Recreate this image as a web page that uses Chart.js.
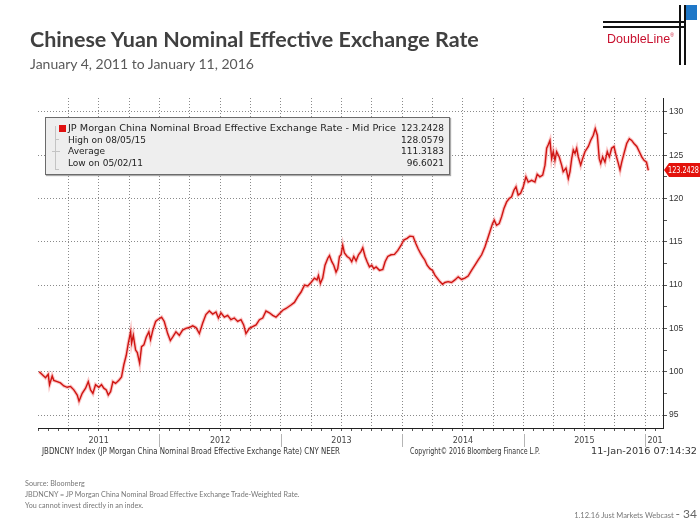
<!DOCTYPE html>
<html>
<head>
<meta charset="utf-8">
<script src="https://cdn.jsdelivr.net/npm/chart.js@4.4.1/dist/chart.umd.min.js"></script>
<style>
  body { margin: 0; width: 700px; height: 525px; position: relative; overflow: hidden; background: #fff; font-family: Lato, "Liberation Sans", sans-serif; }
  #chartBox { position: absolute; left: 0; top: 0; width: 700px; height: 525px; }
  .abs { position: absolute; white-space: nowrap; transform-origin: left center; }
  .title { left: 30px; top: 26px; font-size: 21.5px; font-weight: bold; color: #404040; }
  .sub { left: 30px; top: 55px; font-size: 14px; color: #595959; }
  .bb { font-family: "DejaVu Sans", sans-serif; font-size: 8px; color: #333; }
  .note { left: 25px; font-size: 7.2px; color: #777; }
  #legend { position: absolute; left: 45px; top: 117px; width: 403px; height: 56px; background: #eeeeee; border: 1px solid #6b6b6b; box-shadow: 1px 1px 1px #aaa; }
  #legend .row { position: absolute; left: 22px; font-family: "DejaVu Sans", sans-serif; font-size: 9px; line-height: 11px; color: #222; white-space: nowrap; transform-origin: left center; }
  #legend .val { position: absolute; right: 5px; font-family: "DejaVu Sans", sans-serif; font-size: 9px; line-height: 11px; color: #222; white-space: nowrap; }
  .logo-line { position: absolute; background: #111; }
</style>
</head>
<body>
<div id="chartBox"><canvas id="neer" width="700" height="525"></canvas></div>

<div class="abs title">Chinese Yuan Nominal Effective Exchange Rate</div>
<div class="abs sub">January 4, 2011 to January 11, 2016</div>

<!-- DoubleLine logo -->
<div class="logo-line" style="left:603px;top:21px;width:83px;height:1.5px"></div>
<div class="logo-line" style="left:603px;top:26px;width:83px;height:1.5px"></div>
<div class="logo-line" style="left:679px;top:5px;width:1.5px;height:60px"></div>
<div class="logo-line" style="left:684px;top:5px;width:1.5px;height:60px"></div>
<div style="position:absolute;left:686px;top:5px;width:11px;height:15px;background:#1f78c8"></div>
<div class="abs" style="left:607px;top:32px;font-size:12.5px;color:#c8102e;font-family:'Liberation Sans',sans-serif">DoubleLine<span style="font-size:5px;vertical-align:top">®</span></div>

<div id="legend"></div>

<div class="abs bb" data-w="298" style="left:42px;top:447px">JBDNCNY Index (JP Morgan China Nominal Broad Effective Exchange Rate) CNY NEER</div>
<div class="abs bb" data-w="130" style="left:410px;top:447px">Copyright© 2016 Bloomberg Finance L.P.</div>
<div class="abs bb" data-w="106" style="left:591px;top:447px">11-Jan-2016 07:14:32</div>

<div class="abs note" style="top:479px">Source: Bloomberg</div>
<div class="abs note" style="top:490px">JBDNCNY = JP Morgan China Nominal Broad Effective Exchange Trade-Weighted Rate.</div>
<div class="abs note" style="top:501px">You cannot invest directly in an index.</div>
<div style="position:absolute;right:3px;top:506px;white-space:nowrap;font-size:7.5px;color:#777">1.12.16 Just Markets Webcast <span style="font-size:12px;color:#666">- 34</span></div>

<script>
// decimal year of each reading (Jan 4, 2011 .. Jan 11, 2016)
const yearPos = [
  2011.010, 2011.062, 2011.084, 2011.095, 2011.117, 2011.130, 2011.158, 2011.185, 2011.213, 2011.241,
  2011.268, 2011.295, 2011.323, 2011.338, 2011.364, 2011.392, 2011.414, 2011.433, 2011.452, 2011.474,
  2011.501, 2011.523, 2011.542, 2011.562, 2011.579, 2011.598, 2011.617, 2011.639, 2011.666, 2011.688,
  2011.707, 2011.727, 2011.744, 2011.763, 2011.771, 2011.785, 2011.804, 2011.818, 2011.837, 2011.853,
  2011.872, 2011.892, 2011.913, 2011.927, 2011.946, 2011.969, 2011.985, 2012.018, 2012.040, 2012.068,
  2012.090, 2012.109, 2012.136, 2012.164, 2012.191, 2012.218, 2012.246, 2012.274, 2012.301, 2012.329,
  2012.356, 2012.383, 2012.411, 2012.439, 2012.466, 2012.486, 2012.507, 2012.535, 2012.562, 2012.589,
  2012.617, 2012.645, 2012.672, 2012.694, 2012.713, 2012.741, 2012.768, 2012.796, 2012.824, 2012.851,
  2012.878, 2012.906, 2012.933, 2012.960, 2012.988, 2013.016, 2013.043, 2013.084, 2013.112, 2013.139,
  2013.167, 2013.195, 2013.222, 2013.249, 2013.277, 2013.298, 2013.310, 2013.326, 2013.345, 2013.364,
  2013.387, 2013.401, 2013.420, 2013.436, 2013.455, 2013.469, 2013.483, 2013.496, 2013.510, 2013.524,
  2013.546, 2013.566, 2013.584, 2013.601, 2013.620, 2013.640, 2013.661, 2013.675, 2013.694, 2013.711,
  2013.730, 2013.749, 2013.766, 2013.785, 2013.813, 2013.840, 2013.859, 2013.881, 2013.908, 2013.936,
  2013.964, 2013.991, 2014.013, 2014.040, 2014.063, 2014.090, 2014.112, 2014.131, 2014.151, 2014.167,
  2014.186, 2014.205, 2014.228, 2014.250, 2014.269, 2014.288, 2014.310, 2014.332, 2014.351, 2014.378,
  2014.406, 2014.434, 2014.461, 2014.489, 2014.516, 2014.543, 2014.571, 2014.599, 2014.626, 2014.654,
  2014.681, 2014.700, 2014.722, 2014.744, 2014.758, 2014.777, 2014.799, 2014.819, 2014.838, 2014.860,
  2014.881, 2014.901, 2014.920, 2014.937, 2014.955, 2014.975, 2014.997, 2015.019, 2015.038, 2015.066,
  2015.093, 2015.112, 2015.134, 2015.157, 2015.176, 2015.190, 2015.203, 2015.217, 2015.231, 2015.244,
  2015.258, 2015.272, 2015.293, 2015.313, 2015.326, 2015.349, 2015.368, 2015.382, 2015.396, 2015.409,
  2015.423, 2015.437, 2015.450, 2015.470, 2015.486, 2015.505, 2015.533, 2015.552, 2015.574, 2015.590,
  2015.607, 2015.623, 2015.635, 2015.651, 2015.670, 2015.689, 2015.706, 2015.725, 2015.744, 2015.761,
  2015.780, 2015.794, 2015.808, 2015.827, 2015.849, 2015.871, 2015.890, 2015.909, 2015.932, 2015.953,
  2015.973, 2015.992, 2016.012, 2016.027
];

// JBDNCNY index level
const cnyNeer = [
  100.0, 99.3, 99.7, 98.5, 99.5, 99.0, 98.85, 98.7, 98.35, 98.2,
  98.3, 97.9, 97.3, 96.6, 97.5, 98.1, 98.85, 97.9, 97.5, 98.5,
  98.2, 98.5, 98.1, 97.9, 97.3, 97.7, 98.85, 98.65, 99.0, 99.4,
  100.8, 101.9, 103.3, 104.6, 103.3, 104.2, 102.5, 102.2, 101.0, 102.9,
  103.1, 104.0, 104.6, 103.7, 104.8, 105.8, 106.0, 106.3, 105.8, 104.4,
  103.6, 104.0, 104.6, 104.2, 104.8, 105.0, 105.1, 105.3, 105.1, 104.4,
  105.6, 106.6, 107.0, 106.65, 106.9, 106.2, 106.8, 106.3, 106.5, 106.0,
  106.2, 105.8, 106.0, 105.4, 104.4, 105.0, 105.2, 105.4, 106.0, 106.2,
  107.0, 106.8, 106.5, 106.3, 106.7, 107.1, 107.3, 107.7, 108.0, 108.65,
  109.2, 110.0, 109.9, 110.3, 110.8, 110.6, 111.1, 110.2, 110.8, 112.3,
  113.1, 113.4, 112.7, 112.3, 111.5, 111.9, 113.3, 113.5, 114.6, 113.7,
  113.3, 113.1, 112.7, 113.3, 112.8, 113.5, 113.9, 114.3, 113.3, 112.7,
  112.1, 112.3, 111.9, 112.1, 111.7, 111.8, 112.7, 113.3, 113.5, 113.55,
  114.0, 114.6, 115.2, 115.4, 115.65, 115.6, 114.8, 114.2, 113.65, 113.3,
  112.9, 112.3, 111.9, 111.7, 111.15, 110.8, 110.4, 110.1, 110.3, 110.4,
  110.3, 110.6, 110.95, 110.65, 110.8, 111.05, 111.7, 112.3, 112.9, 113.5,
  114.4, 115.2, 116.15, 117.1, 117.5, 116.9, 117.1, 117.9, 118.85, 119.6,
  120.0, 120.2, 120.95, 121.35, 120.4, 120.6, 121.35, 122.5, 121.9, 122.1,
  121.9, 122.8, 122.5, 122.7, 123.85, 125.8, 126.2, 126.7, 124.6, 125.4,
  124.4, 125.4, 124.8, 123.85, 123.1, 123.5, 122.3, 123.1, 124.6, 125.6,
  125.2, 125.8, 124.8, 123.85, 124.6, 125.4, 126.0, 126.7, 127.3, 128.06,
  127.3, 124.6, 124.05, 124.8, 124.2, 125.4, 124.8, 125.8, 126.0, 125.0,
  124.05, 123.3, 124.2, 125.2, 126.35, 126.9, 126.7, 126.35, 126.0, 125.4,
  124.8, 124.4, 124.2, 123.24
];

const lastPrice = '123.2428';
const yearLabels = ['2011', '2012', '2013', '2014', '2015', '201'];
const yearStarts = [2011, 2012, 2013, 2014, 2015, 2016];
const yMajorTicks = [95, 100, 105, 110, 115, 120, 125, 130];

const legendLabels = ['JP Morgan China Nominal Broad Effective Exchange Rate - Mid Price', 'High on 08/05/15', 'Average', 'Low on 05/02/11'];
const legendValues = ['123.2428', '128.0579', '111.3183', '96.6021'];

// legend box in the Bloomberg style
const legend = document.getElementById('legend');
legendLabels.forEach((lab, i) => {
  const top = 5 + i * 11.6;
  const row = document.createElement('div');
  row.className = 'row';
  row.style.top = top + 'px';
  row.textContent = lab;
  legend.appendChild(row);
  const val = document.createElement('div');
  val.className = 'val';
  val.style.top = top + 'px';
  val.textContent = legendValues[i];
  legend.appendChild(val);
});
legend.insertAdjacentHTML('beforeend',
  '<div style="position:absolute;left:13px;top:7px;width:7px;height:7px;background:#e01010"></div>' +
  '<div style="position:absolute;left:9px;top:8px;width:1px;height:44px;background:#c4c4c4"></div>' +
  '<div style="position:absolute;left:10px;top:21px;width:3px;height:1px;background:#c4c4c4"></div>' +
  '<div style="position:absolute;left:6px;top:33px;width:8px;height:1px;background:#c4c4c4"></div>' +
  '<div style="position:absolute;left:10px;top:51px;width:3px;height:1px;background:#c4c4c4"></div>');

// squeeze the narrow Bloomberg texts to the widths seen on the picture
function fitWidth(el, w) {
  const cur = el.getBoundingClientRect().width;
  if (cur > 0) el.style.transform = 'scaleX(' + (w / cur).toFixed(3) + ')';
}
document.querySelectorAll('[data-w]').forEach(el => fitWidth(el, +el.dataset.w));
fitWidth(legend.querySelector('.row'), 328);

const bloombergExtras = {
  id: 'bloombergExtras',
  afterDraw(chart) {
    const { ctx, chartArea, scales: { x, y } } = chart;
    ctx.save();
    // year separators and labels under the axis
    ctx.font = '8px "DejaVu Sans", sans-serif';
    ctx.textBaseline = 'middle';
    ctx.textAlign = 'center';
    yearStarts.forEach((yr, i) => {
      const x0 = x.getPixelForValue(yr);
      const x1 = Math.min(x.getPixelForValue(yr + 1), chartArea.right);
      if (i > 0) {
        ctx.fillStyle = '#b5b5b5';
        ctx.fillRect(Math.round(x0), chartArea.bottom + 6, 1, 13);
      }
      ctx.fillStyle = '#444';
      ctx.fillText(yearLabels[i], (x0 + x1) / 2 + (i === yearStarts.length - 1 ? 1 : 0), chartArea.bottom + 13);
    });
    // last price tag on the right axis
    const yp = Math.round(y.getPixelForValue(cnyNeer[cnyNeer.length - 1]));
    const xl = chartArea.right + 1;
    ctx.fillStyle = '#e3120b';
    ctx.beginPath();
    ctx.moveTo(xl, yp);
    ctx.lineTo(xl + 5, yp - 7);
    ctx.lineTo(700, yp - 7);
    ctx.lineTo(700, yp + 7);
    ctx.lineTo(xl + 5, yp + 7);
    ctx.closePath();
    ctx.fill();
    ctx.fillStyle = '#fff';
    ctx.textAlign = 'left';
    ctx.font = '8px "DejaVu Sans", sans-serif';
    const tw = ctx.measureText(lastPrice).width;
    ctx.translate(xl + 4, yp + 0.5);
    ctx.scale(31 / tw, 1);
    ctx.fillText(lastPrice, 0, 0);
    ctx.restore();
  }
};

const points = yearPos.map((t, i) => ({ x: t, y: cnyNeer[i] }));

new Chart(document.getElementById('neer'), {
  type: 'line',
  data: {
    datasets: [{
      label: 'JBDNCNY',
      data: points,
      borderColor: '#cf1512',
      borderWidth: 1.4,
      pointRadius: 0,
      tension: 0,
      fill: false,
      order: 0
    }, {
      label: 'halo',
      data: points,
      borderColor: 'rgba(240, 90, 90, 0.35)',
      borderWidth: 3.5,
      pointRadius: 0,
      tension: 0,
      fill: false,
      order: 1
    }]
  },
  options: {
    responsive: false,
    animation: false,
    devicePixelRatio: 1,
    layout: { padding: { left: 38, top: 98, right: 0, bottom: 77 } },
    plugins: { legend: { display: false }, tooltip: { enabled: false } },
    scales: {
      x: {
        type: 'linear',
        position: 'bottom',
        min: 2011,
        max: 2016.148,
        afterBuildTicks: s => {
          const t = [];
          for (let m = 0; m <= 61; m++) t.push({ value: 2011 + m / 12 });
          s.ticks = t;
        },
        afterFit: s => { s.height = 20; },
        ticks: { display: false },
        grid: {
          color: c => {
            if (!c.tick) return 'transparent';
            const m = Math.round((c.tick.value - 2011) * 12);
            return m > 0 && m % 3 === 0 ? '#8a8a8a' : 'transparent';
          },
          tickColor: '#555',
          tickLength: 3,
          lineWidth: 1
        },
        border: { color: '#222', width: 1, dash: [1, 2] }
      },
      y: {
        type: 'linear',
        position: 'right',
        min: 93.5,
        max: 131.6,
        afterBuildTicks: s => {
          const t = [];
          yMajorTicks.forEach((v, i) => {
            t.push({ value: v });
            if (i < yMajorTicks.length - 1) t.push({ value: v + 2.5 });
          });
          s.ticks = t;
        },
        afterFit: s => { s.width = 37; },
        ticks: {
          callback: v => (yMajorTicks.includes(v) ? String(v) : ''),
          color: '#333',
          padding: 2,
          font: { family: 'Liberation Sans', size: 8.5 }
        },
        grid: {
          color: c => (c.tick && yMajorTicks.includes(c.tick.value) ? '#8a8a8a' : 'transparent'),
          tickColor: '#555',
          tickLength: 4,
          lineWidth: 1
        },
        border: { color: '#222', width: 1, dash: [1, 2] }
      }
    }
  },
  plugins: [bloombergExtras]
});
</script>
</body>
</html>
